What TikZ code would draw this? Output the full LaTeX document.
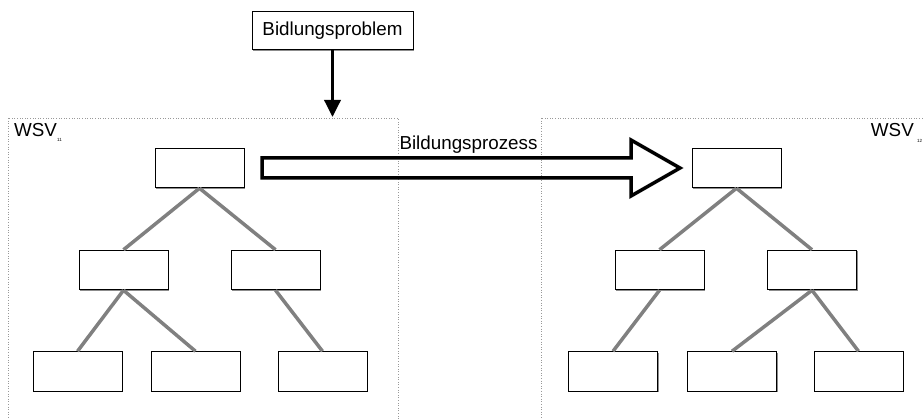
\documentclass[tikz,border=0pt]{standalone}
\usepackage{fontspec}
\setmainfont{Liberation Sans}
\usetikzlibrary{arrows.meta,shadows}
\begin{document}
\begin{tikzpicture}[x=1pt,y=-1pt,
  lbl/.style={font=\fontsize{18.8}{22}\selectfont, inner sep=0pt},
  subs/.style={font=\fontsize{4.5}{5}\selectfont, inner sep=0pt},
  boxshadow/.style={drop shadow={shadow xshift=1pt, shadow yshift=-1pt, fill=black!45, opacity=1}},
  treebox/.style={draw=black, line width=1pt, fill=white, minimum width=89pt,
    minimum height=39.5pt, inner sep=0pt, boxshadow},
  branch/.style={draw=black!50, line width=3.5pt},
  frame/.style={draw=black!40, line width=0.6pt, dotted}
]
\useasboundingbox (0,0) rectangle (924,419);
\clip (0,0) rectangle (924,419);

% dotted frames of the two knowledge states
\draw[frame] (8,118) rectangle (398,440);
\draw[frame] (541,118) rectangle (940,440);

% labels of the frames
\node[lbl, anchor=base west] (wsvl) at (14,137) {WSV};
\node[subs, anchor=base west] (wsvlsub) at (57,142) {11};
\node[lbl, anchor=base east] (wsvr) at (914,137) {WSV};
\node[subs, anchor=base west] (wsvrsub) at (917,143) {12};

% problem box and arrow into the first state
\node[draw=black, line width=1pt, fill=white, minimum width=161pt, minimum height=38pt,
      inner sep=0pt, boxshadow]
      (prob) at (332.5,31) {\fontsize{18.8}{22}\selectfont Bidlungsproblem};
\coordinate (probtip) at (332.5,117);
\draw[line width=3.5pt, -{Triangle[width=16pt,length=17pt]}] (prob.south) -- (probtip);

% left tree
\node[treebox] (l0) at (199.5,168) {};
\node[treebox] (l1) at (123.5,270) {};
\node[treebox] (l2) at (275.5,270) {};
\node[treebox] (l3) at (77.5,371.5) {};
\node[treebox] (l4) at (195.5,371.5) {};
\node[treebox] (l5) at (322.5,371.5) {};
\draw[branch] (l0.south) -- (l1.north);
\draw[branch] (l0.south) -- (l2.north);
\draw[branch] (l1.south) -- (l3.north);
\draw[branch] (l1.south) -- (l4.north);
\draw[branch] (l2.south) -- (l5.north);

% right tree
\node[treebox] (r0) at (736.5,168) {};
\node[treebox] (r1) at (659.5,270) {};
\node[treebox] (r2) at (812,270) {};
\node[treebox] (r3) at (613,371.5) {};
\node[treebox] (r4) at (732,371.5) {};
\node[treebox] (r5) at (858.5,371.5) {};
\draw[branch] (r0.south) -- (r1.north);
\draw[branch] (r0.south) -- (r2.north);
\draw[branch] (r1.south) -- (r3.north);
\draw[branch] (r2.south) -- (r4.north);
\draw[branch] (r2.south) -- (r5.north);

% block arrow of the process (outline only)
\draw[line width=3.5pt, line join=miter]
  (262,158) -- (631,158) -- (631,140) -- (680,168) -- (631,196) -- (631,178) -- (262,178) -- cycle;
\node[lbl, anchor=base] (proc) at (468.5,150) {Bildungsprozess};
\end{tikzpicture}
\end{document}
